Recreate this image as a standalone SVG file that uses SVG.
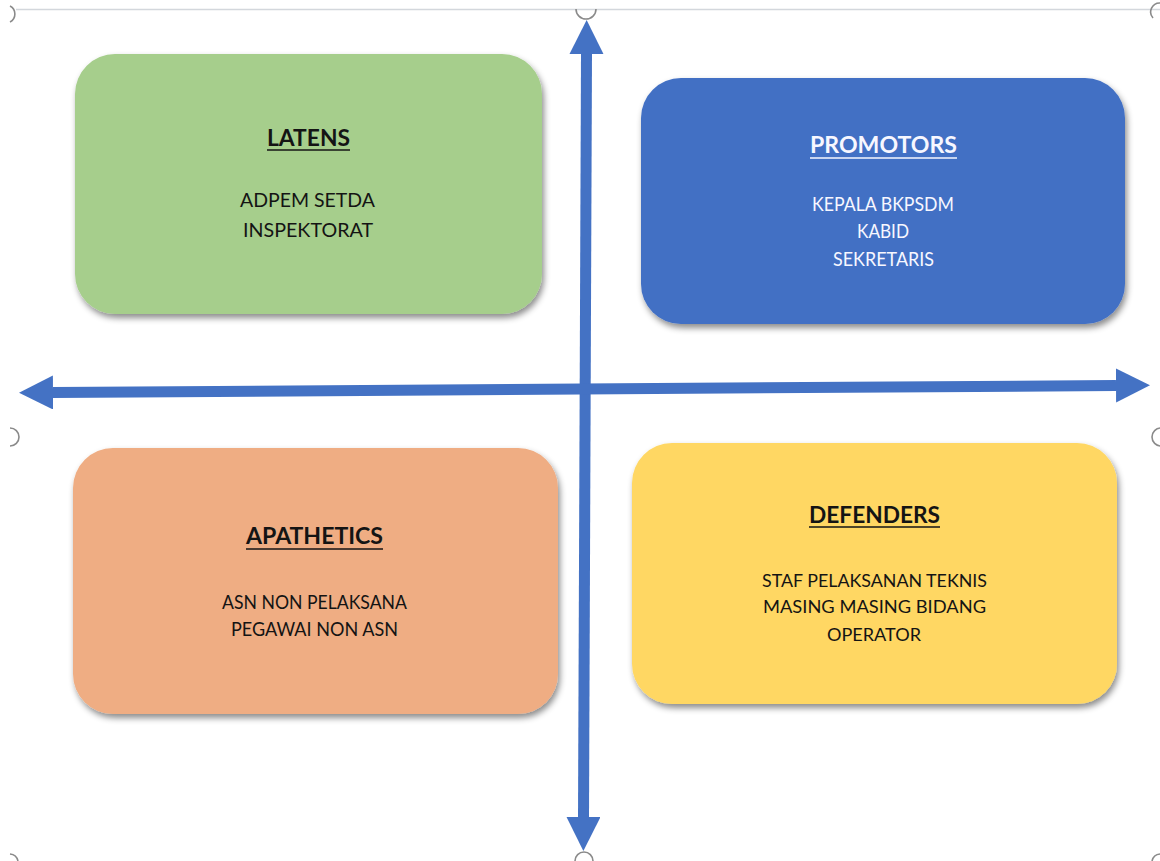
<svg xmlns="http://www.w3.org/2000/svg" width="1160" height="861" viewBox="0 0 1160 861">
  <defs>
    <filter id="sh" x="-10%" y="-10%" width="125%" height="135%">
      <feDropShadow dx="2" dy="4" stdDeviation="3" flood-color="#000" flood-opacity="0.45"/>
    </filter>
    <marker id="ah" markerUnits="userSpaceOnUse" markerWidth="36" markerHeight="36" refX="0" refY="17" orient="auto-start-reverse" viewBox="0 0 36 36">
      <path d="M0,0 L34,17 L0,34 Z" fill="#4472C4"/>
    </marker>
  </defs>
  <style>
    .box { filter: url(#sh); }
    .t { font-family: Lato, "Open Sans", "Liberation Sans", sans-serif; text-anchor: middle; }
    .title { font-weight: bold; }
    .dark { fill: #141414; }
    .light { fill: #F7F7FF; }
    .ul { stroke-width: 1.6; }
    .handle { fill: none; stroke: #8a8a8a; stroke-width: 1.6; }
    .axis { stroke: #4472C4; stroke-width: 11; fill: none; }
  </style>
  <rect width="1160" height="861" fill="#ffffff"/>

  <!-- selection frame and handles -->
  <g id="frame">
    <line x1="16" y1="9.5" x2="1160" y2="9.5" stroke="#d3d7dc" stroke-width="1.5"/>
    <path class="handle" d="M576,9 A10,10 0 0 0 596,9"/>
    <path class="handle" d="M10,6 A9,9 0 0 1 10,22"/>
    <path class="handle" d="M10,428 A9,9 0 0 1 10,446"/>
    <path class="handle" d="M1161,428 A9,9 0 0 0 1161,446"/>
    <path class="handle" d="M1160,3 A9,9 0 0 0 1153,18"/>
    <path class="handle" d="M10,854 A9,9 0 0 1 18,861"/>
    <path class="handle" d="M1160,854 A9,9 0 0 0 1152,861"/>
    <path class="handle" d="M575,861 A9,9 0 0 1 593,861"/>
  </g>

  <g id="connectors">
    <line class="axis" x1="586.5" y1="54" x2="583.5" y2="817" marker-start="url(#ah)" marker-end="url(#ah)"/>
    <line class="axis" x1="53" y1="392.5" x2="1116" y2="385.5" marker-start="url(#ah)" marker-end="url(#ah)"/>
  </g>

  <g id="latens">
    <rect class="box" x="75" y="54" width="467" height="260" rx="40" fill="#A6CE8C"/>
    <text class="t title dark" x="308.5" y="146" font-size="23" textLength="83" lengthAdjust="spacingAndGlyphs">LATENS</text>
    <line class="ul" x1="267" y1="150" x2="350" y2="150" stroke="#141414"/>
    <text class="t dark" x="307.5" y="207" font-size="20" textLength="135" lengthAdjust="spacingAndGlyphs">ADPEM SETDA</text>
    <text class="t dark" x="308" y="237" font-size="20" textLength="130" lengthAdjust="spacingAndGlyphs">INSPEKTORAT</text>
  </g>

  <g id="promotors">
    <rect class="box" x="641" y="78" width="484" height="246" rx="40" fill="#4270C4"/>
    <text class="t title light" x="883.5" y="153" font-size="23" textLength="147" lengthAdjust="spacingAndGlyphs">PROMOTORS</text>
    <line class="ul" x1="810" y1="158" x2="957" y2="158" stroke="#F7F7FF"/>
    <text class="t light" x="883" y="211" font-size="19" textLength="142" lengthAdjust="spacingAndGlyphs">KEPALA BKPSDM</text>
    <text class="t light" x="883" y="238" font-size="19" textLength="52" lengthAdjust="spacingAndGlyphs">KABID</text>
    <text class="t light" x="883.5" y="266" font-size="19" textLength="101" lengthAdjust="spacingAndGlyphs">SEKRETARIS</text>
  </g>

  <g id="apathetics">
    <rect class="box" x="73" y="448" width="485" height="266" rx="40" fill="#EFAD83"/>
    <text class="t title dark" x="314.5" y="544" font-size="22" textLength="137" lengthAdjust="spacingAndGlyphs">APATHETICS</text>
    <line class="ul" x1="246" y1="549" x2="383" y2="549" stroke="#141414"/>
    <text class="t dark" x="314.5" y="609" font-size="19" textLength="185" lengthAdjust="spacingAndGlyphs">ASN NON PELAKSANA</text>
    <text class="t dark" x="314.5" y="636" font-size="19" textLength="167" lengthAdjust="spacingAndGlyphs">PEGAWAI NON ASN</text>
  </g>

  <g id="defenders">
    <rect class="box" x="632" y="443" width="485" height="261" rx="40" fill="#FFD763"/>
    <text class="t title dark" x="874.5" y="523" font-size="22" textLength="131" lengthAdjust="spacingAndGlyphs">DEFENDERS</text>
    <line class="ul" x1="809" y1="527" x2="940" y2="527" stroke="#141414"/>
    <text class="t dark" x="874.5" y="587" font-size="18" textLength="225" lengthAdjust="spacingAndGlyphs">STAF PELAKSANAN TEKNIS</text>
    <text class="t dark" x="874.5" y="613" font-size="18" textLength="223" lengthAdjust="spacingAndGlyphs">MASING MASING BIDANG</text>
    <text class="t dark" x="874" y="641" font-size="18" textLength="94" lengthAdjust="spacingAndGlyphs">OPERATOR</text>
  </g>
</svg>
